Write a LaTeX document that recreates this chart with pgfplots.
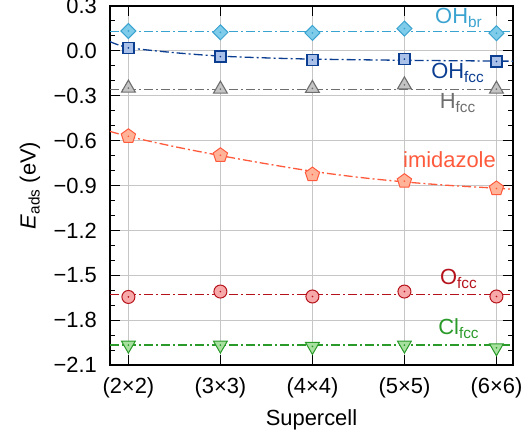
\documentclass[border=0pt]{standalone}
\usepackage{pgfplots}
\pgfplotsset{compat=1.18}
\usepackage{pgfplotstable}
\usepackage{fontspec}
\setmainfont{Liberation Sans}

\definecolor{brL}{HTML}{3BA3D0}\definecolor{brF}{HTML}{7ECBEA}
\definecolor{fccL}{HTML}{0B3D91}\definecolor{fccF}{HTML}{A9C1E8}
\definecolor{hL}{HTML}{6E6E6E}\definecolor{hF}{HTML}{C4C4C4}
\definecolor{imL}{HTML}{FF5A3C}\definecolor{imF}{HTML}{FFB49A}
\definecolor{oL}{HTML}{B5121B}\definecolor{oF}{HTML}{F7A8A8}
\definecolor{clL}{HTML}{2A9A2A}\definecolor{clF}{HTML}{A8E0A0}

\pgfplotstableread{
x OHbr OHfcc Hfcc imid Ofcc Clfcc
0 0.133 0.020 -0.249 -0.571 -1.645 -1.967
1 0.124 -0.038 -0.256 -0.698 -1.609 -1.967
2 0.120 -0.060 -0.251 -0.827 -1.642 -1.976
3 0.149 -0.055 -0.227 -0.871 -1.609 -1.967
4 0.118 -0.071 -0.256 -0.920 -1.642 -1.985
}\data

\tikzset{fitline/.style={line width=1.3bp, dash pattern=on 9bp off 3bp on 2bp off 3bp}}

\begin{document}
\begin{tikzpicture}
\begin{axis}[name=ax,
  scale only axis, width=403bp, height=359bp,
  font=\fontsize{22}{25}\selectfont,
  xmin=-0.2, xmax=4.18, ymin=-2.1, ymax=0.3,
  xtick={0,1,2,3,4},
  xticklabels={(2×2),(3×3),(4×4),(5×5),(6×6)},
  ytick={-2.1,-1.8,-1.5,-1.2,-0.9,-0.6,-0.3,0,0.3},
  yticklabels={−2.1,−1.8,−1.5,−1.2,−0.9,−0.6,−0.3,0.0,0.3},
  minor y tick num=2,
  tick align=inside,
  major tick length=10bp, minor tick length=5bp,
  tick style={black, line width=1bp},
  grid=major,
  major grid style={gray!45, line width=0.9bp},
  axis line style={line width=1.5bp},
  yticklabel style={anchor=east, inner sep=0pt, xshift=-13bp},
  xticklabel style={anchor=center, yshift=-23bp},
  xlabel={Supercell},
  ylabel={\textit{E}\textsubscript{ads} (eV)},
  xlabel style={at={(axis description cs:0.5,0)}, anchor=center, yshift=-55bp},
  ylabel style={at={(axis description cs:-0.1985,0.5)}, anchor=center},
  clip=true,
]
% fit lines
\addplot[fitline, brL] coordinates {(-0.2,0.128)(4.18,0.128)};
\addplot[fitline, fccL, smooth] coordinates {(-0.2,0.062)(0,0.022)(0.5,-0.012)(1,-0.035)(1.5,-0.047)(2,-0.055)(3,-0.063)(4,-0.068)(4.18,-0.069)};
\addplot[fitline, hL] coordinates {(-0.2,-0.26)(4.18,-0.26)};
\addplot[fitline, imL, smooth] coordinates {(-0.2,-0.538)(0,-0.572)(0.5,-0.64)(1,-0.70)(1.5,-0.755)(2,-0.805)(2.5,-0.845)(3,-0.876)(3.5,-0.90)(4,-0.918)(4.18,-0.925)};
\addplot[fitline, oL] coordinates {(-0.2,-1.631)(4.18,-1.631)};
\addplot[fitline, clL] coordinates {(-0.2,-1.967)(4.18,-1.967)};
% markers
\addplot[only marks, mark=square*, mark size=5.3bp, mark options={rotate=45, draw=brL, fill=brF, line width=1bp}] table[x=x,y=OHbr]{\data};
\addplot[only marks, mark=square*, mark size=5.5bp, mark options={draw=fccL, fill=fccF, line width=1.2bp}] table[x=x,y=OHfcc]{\data};
\addplot[only marks, mark=triangle*, mark size=8bp, mark options={draw=hL, fill=hF, line width=1.1bp}] table[x=x,y=Hfcc]{\data};
\addplot[only marks, mark=pentagon*, mark size=7.5bp, mark options={draw=imL, fill=imF, line width=1bp}] table[x=x,y=imid]{\data};
\addplot[only marks, mark=*, mark size=6.5bp, mark options={draw=oL, fill=oF, line width=1bp}] table[x=x,y=Ofcc]{\data};
\addplot[only marks, mark=triangle*, mark size=8bp, mark options={rotate=180, draw=clL, fill=clF, line width=1bp}] table[x=x,y=Clfcc]{\data};
% center dots
\addplot[only marks, mark=*, mark size=0.6bp, brL] table[x=x,y=OHbr]{\data};
\addplot[only marks, mark=*, mark size=0.6bp, fccL] table[x=x,y=OHfcc]{\data};
\addplot[only marks, mark=*, mark size=0.6bp, hL] table[x=x,y=Hfcc]{\data};
\addplot[only marks, mark=*, mark size=0.6bp, imL] table[x=x,y=imid]{\data};
\addplot[only marks, mark=*, mark size=0.6bp, oL] table[x=x,y=Ofcc]{\data};
\addplot[only marks, mark=*, mark size=0.6bp, clL] table[x=x,y=Clfcc]{\data};
% labels
\node[brL] at (axis cs:3.59,0.22) {OH\textsubscript{br}};
\node[fccL] at (axis cs:3.58,-0.147) {OH\textsubscript{fcc}};
\node[hL] at (axis cs:3.58,-0.347) {H\textsubscript{fcc}};
\node[imL] at (axis cs:3.49,-0.727) {imidazole};
\node[oL] at (axis cs:3.59,-1.527) {O\textsubscript{fcc}};
\node[clL] at (axis cs:3.59,-1.86) {Cl\textsubscript{fcc}};
\end{axis}
\pgfresetboundingbox
\path[use as bounding box] ([xshift=-110bp,yshift=-74bp]ax.south west) rectangle ([xshift=9bp,yshift=6bp]ax.north east);
\end{tikzpicture}
\end{document}
